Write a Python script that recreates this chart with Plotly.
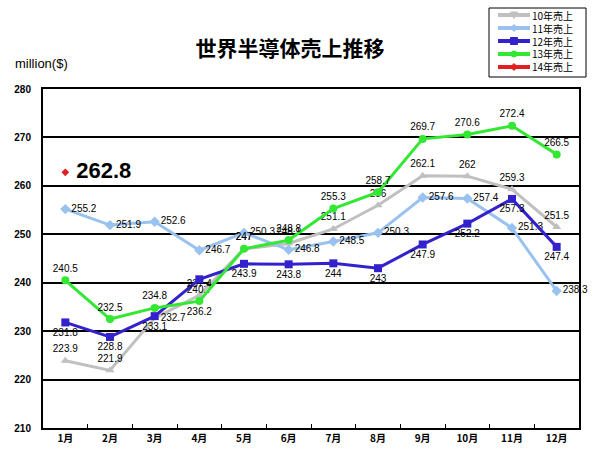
import plotly.graph_objects as go

months = ["1月", "2月", "3月", "4月", "5月", "6月", "7月", "8月", "9月", "10月", "11月", "12月"]
s10 = [223.9, 221.9, 232.7, 237.4, 247, 248.1, 251.1, 256, 262.1, 262, 259.3, 251.5]
s11 = [255.2, 251.9, 252.6, 246.7, 250.3, 246.8, 248.5, 250.3, 257.6, 257.4, 251.3, 238.3]
s12 = [231.8, 228.8, 233.1, 240.7, 243.9, 243.8, 244, 243, 247.9, 252.2, 257.3, 247.4]
s13 = [240.5, 232.5, 234.8, 236.2, 247, 248.8, 255.3, 258.7, 269.7, 270.6, 272.4, 266.5]
s14 = [262.8]
names = ["10年売上", "11年売上", "12年売上", "13年売上", "14年売上"]
colors = ["#C0C0C0", "#99C2F0", "#3322CC", "#33E833", "#E02020"]
symbols = ["triangle-up", "diamond", "square", "circle", "diamond"]

pos10 = ["top center"] * 12
pos10[2] = "middle right"
pos11 = ["middle right"] * 12
pos12 = ["bottom center"] * 12
pos13 = ["top center"] * 12
pos13[3] = "bottom center"

# plot area in pixels
L, R, T, B = 43, 579, 89, 428
W, H = 600, 467

def xp(px):
    return (px - L) / (R - L)

def yp(py):
    return (B - py) / (B - T)

lab_font = dict(family="Liberation Sans, Arial", size=10, color="black")

fig = go.Figure()

def add(vals, i, msize, pos):
    fig.add_trace(go.Scatter(
        x=months[:len(vals)], y=vals, name=names[i], mode="lines+markers+text",
        line=dict(color=colors[i], width=3),
        marker=dict(color=colors[i], symbol=symbols[i], size=msize),
        text=[str(v) for v in vals], textposition=pos, textfont=lab_font,
        cliponaxis=False, showlegend=False, hoverinfo="skip",
    ))

add(s10, 0, 8, pos10)
add(s11, 1, 8, pos11)
add(s12, 2, 8, pos12)
add(s13, 3, 8, pos13)
fig.add_trace(go.Scatter(
    x=months[:1], y=s14, name=names[4], mode="lines+markers+text",
    line=dict(color=colors[4], width=3),
    marker=dict(color=colors[4], symbol="diamond", size=6),
    text=[" " + str(v) for v in s14], textposition="middle right",
    textfont=dict(family="Liberation Sans, Arial", size=22, color="black", weight="bold"),
    cliponaxis=False, showlegend=False, hoverinfo="skip",
))

# custom legend (box, line samples, small markers, texts)
shapes = [dict(type="rect", xref="paper", yref="paper", x0=xp(489), x1=xp(586), y0=yp(77), y1=yp(8),
               line=dict(color="black", width=1), fillcolor="white", layer="above")]
annotations = []
item_y = [15, 28, 41, 54, 67]
for i, name in enumerate(names):
    y = item_y[i]
    shapes.append(dict(type="line", xref="paper", yref="paper", x0=xp(498), x1=xp(530), y0=yp(y), y1=yp(y),
                       line=dict(color=colors[i], width=4), layer="above"))
    m = dict(xref="paper", yref="paper", xsizemode="pixel", ysizemode="pixel",
             xanchor=xp(514), yanchor=yp(y), fillcolor=colors[i], line=dict(color=colors[i], width=1),
             layer="above")
    if i == 0:
        m.update(type="path", path="M -3.5 3 L 3.5 3 L 0 -3.5 Z")
    elif i in (1, 4):
        m.update(type="path", path="M 0 -3.5 L 3.5 0 L 0 3.5 L -3.5 0 Z")
    elif i == 2:
        m.update(type="rect", x0=-3.5, x1=3.5, y0=-3.5, y1=3.5)
    else:
        m.update(type="circle", x0=-3, x1=3, y0=-3, y1=3)
    shapes.append(m)
    annotations.append(dict(text=name, x=xp(530), y=yp(y), xref="paper", yref="paper",
                            xanchor="left", yanchor="middle", showarrow=False,
                            font=dict(family="Noto Sans CJK JP", size=10, color="black")))

annotations.append(dict(text="million($)", x=xp(13), y=yp(64), xref="paper", yref="paper",
                        xanchor="left", yanchor="middle", showarrow=False,
                        font=dict(family="Liberation Sans, Arial", size=13, color="black")))

fig.update_layout(
    width=W, height=H,
    margin=dict(l=L, r=W - R, t=T, b=H - B, autoexpand=False),
    paper_bgcolor="white", plot_bgcolor="white",
    hovermode=False,
    title=dict(text="世界半導体売上推移", x=290 / W, xanchor="center", y=1 - 49 / H, yanchor="middle",
               font=dict(family="Noto Sans CJK JP", size=21, color="black", weight="bold")),
    showlegend=False,
    xaxis=dict(type="category", range=[-0.5, 11.5], showgrid=False,
               showline=True, linecolor="black", linewidth=2, mirror=True,
               ticks="inside", tickson="boundaries", ticklen=4, tickcolor="black", tickwidth=1,
               tickfont=dict(family="Noto Sans CJK JP", size=10, color="black", weight="bold")),
    yaxis=dict(range=[210, 280], dtick=10, showgrid=True, gridcolor="black", gridwidth=2,
               showline=True, linecolor="black", linewidth=2, mirror=True, zeroline=False,
               ticks="", ticklabelstandoff=8,
               tickfont=dict(family="Liberation Sans, Arial", size=10, color="black", weight="bold")),
    shapes=shapes,
    annotations=annotations,
)

fig.write_html("out.html", config={"displayModeBar": False},
               post_script="document.body.style.margin='0px';document.body.style.padding='0px';")
